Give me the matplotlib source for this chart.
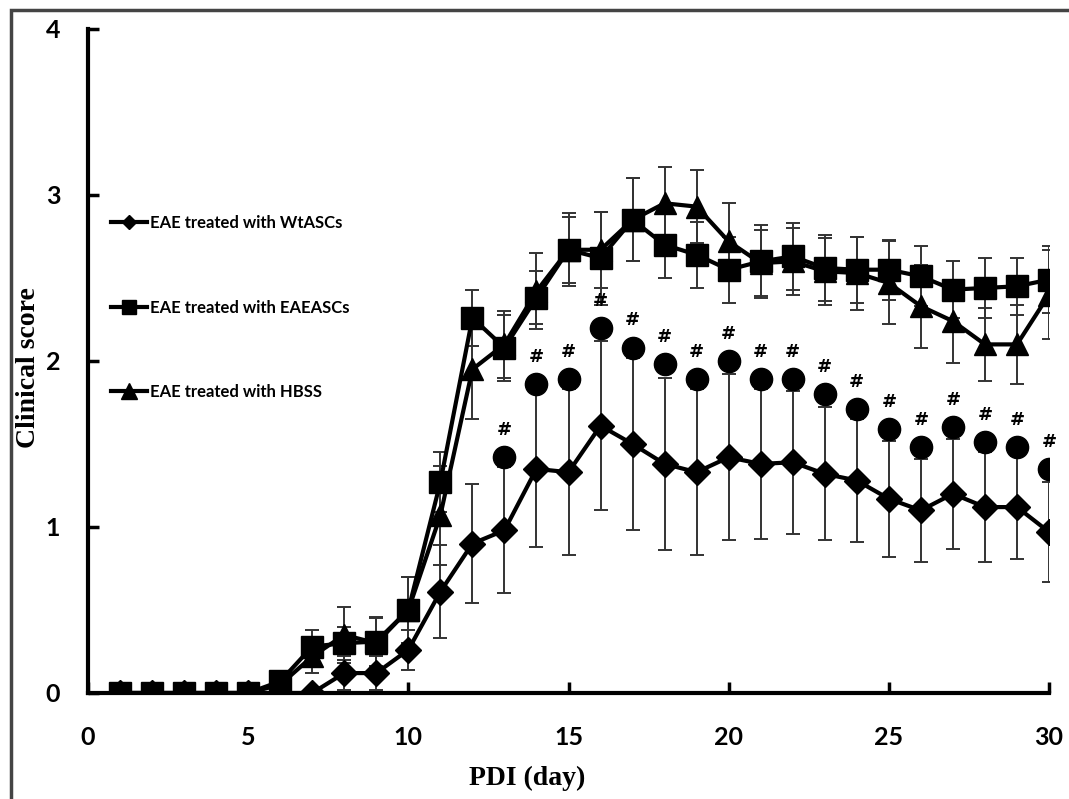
import matplotlib
matplotlib.use("Agg")
import matplotlib.pyplot as plt
from matplotlib.lines import Line2D
from matplotlib.patches import Rectangle
import numpy as np

days = np.arange(1, 31)

wt = [0, 0, 0, 0, 0, 0, 0, 0.12, 0.12, 0.26, 0.61, 0.90, 0.98, 1.35, 1.33, 1.61, 1.50, 1.38, 1.33, 1.42,
      1.38, 1.39, 1.32, 1.28, 1.17, 1.10, 1.20, 1.12, 1.12, 0.97]
wt_sd = [0, 0, 0, 0, 0, 0, 0, 0.10, 0.10, 0.12, 0.28, 0.36, 0.38, 0.47, 0.50, 0.51, 0.52, 0.52, 0.50, 0.50,
         0.45, 0.43, 0.40, 0.37, 0.35, 0.31, 0.33, 0.33, 0.31, 0.30]

eae = [0, 0, 0, 0, 0, 0.07, 0.28, 0.30, 0.31, 0.50, 1.27, 2.26, 2.08, 2.38, 2.67, 2.62, 2.85, 2.70, 2.64, 2.55,
       2.60, 2.63, 2.56, 2.55, 2.55, 2.51, 2.43, 2.44, 2.45, 2.49]
eae_sd = [0, 0, 0, 0, 0, 0.03, 0.10, 0.10, 0.15, 0.20, 0.18, 0.17, 0.20, 0.16, 0.20, 0.28, 0.25, 0.20, 0.20, 0.20,
          0.22, 0.20, 0.20, 0.20, 0.18, 0.18, 0.17, 0.18, 0.17, 0.20]

hbss = [0, 0, 0, 0, 0, 0.05, 0.22, 0.35, 0.30, 0.50, 1.07, 1.95, 2.10, 2.42, 2.67, 2.67, 2.85, 2.95, 2.93, 2.72,
        2.59, 2.60, 2.54, 2.53, 2.47, 2.33, 2.24, 2.10, 2.10, 2.40]
hbss_sd = [0, 0, 0, 0, 0, 0.03, 0.10, 0.17, 0.15, 0.20, 0.30, 0.30, 0.20, 0.23, 0.22, 0.23, 0.25, 0.22, 0.22, 0.23,
           0.20, 0.20, 0.20, 0.22, 0.25, 0.25, 0.25, 0.22, 0.24, 0.27]

# significance markers (circle + #)
sig_days = np.arange(13, 31)
sig_vals = [1.42, 1.86, 1.89, 2.20, 2.08, 1.98, 1.89, 2.00, 1.89, 1.89, 1.80, 1.71, 1.59, 1.48, 1.60, 1.51,
            1.48, 1.35]

labels = ['EAE treated with WtASCs', 'EAE treated with EAEASCs', 'EAE treated with HBSS']
xticks = [0, 5, 10, 15, 20, 25, 30]
yticks = [0, 1, 2, 3, 4]

fig = plt.figure(figsize=(10.69, 7.99), dpi=100)
ax = fig.add_axes([88 / 1069, 1 - 693 / 799, (1049 - 88) / 1069, (693 - 29) / 799])

err_kw = dict(fmt='none', ecolor='#333333', elinewidth=1.4, capsize=5, capthick=1.4, zorder=2)
ax.errorbar(days, wt, yerr=wt_sd, **err_kw)
ax.errorbar(days, eae, yerr=eae_sd, **err_kw)
ax.errorbar(days, hbss, yerr=hbss_sd, **err_kw)

ax.plot(days, hbss, color='black', lw=3, marker='^', markersize=16, zorder=3)
ax.plot(days, eae, color='black', lw=3, marker='s', markersize=16, zorder=4)
ax.plot(days, wt, color='black', lw=3, marker='D', markersize=13, zorder=5)

ax.plot(sig_days, sig_vals, ls='none', marker='o', color='black', markersize=16, zorder=5)
for d, v in zip(sig_days, sig_vals):
    ax.text(d, v + 0.11, '#', ha='center', va='bottom', fontsize=13, fontweight='bold',
            family='DejaVu Sans', zorder=6)

ax.set_xlim(0, 30)
ax.set_ylim(0, 4)
ax.set_xticks(xticks)
ax.set_yticks(yticks)
ax.tick_params(direction='in', length=8, width=2.5, pad=20)
ax.tick_params(axis='x', pad=24)
for lab in ax.get_xticklabels() + ax.get_yticklabels():
    lab.set_family('Lato')
    lab.set_fontweight('bold')
    lab.set_fontsize(18)
for side in ['top', 'right']:
    ax.spines[side].set_visible(False)
for side in ['left', 'bottom']:
    ax.spines[side].set_linewidth(3)

fig.text(527 / 1069, 1 - 778 / 799, 'PDI (day)', ha='center', va='center',
         family='Liberation Serif', fontweight='bold', fontsize=20)
fig.text(29 / 1069, 1 - 368 / 799, 'Clinical score', ha='center', va='center', rotation=90,
         family='Liberation Serif', fontweight='bold', fontsize=20)

handles = [Line2D([], [], color='black', lw=3, marker='D', markersize=7),
           Line2D([], [], color='black', lw=3, marker='s', markersize=10),
           Line2D([], [], color='black', lw=3, marker='^', markersize=11)]
leg = ax.legend(handles, labels, loc='upper left', bbox_to_anchor=(0.008, 0.742), frameon=False,
                handlelength=2.2, handletextpad=0.15, labelspacing=4.1,
                prop={'family': 'Lato', 'weight': 'bold', 'size': 12})

# outer frame of the figure
fig.patches.append(Rectangle((11 / 1069, -0.05), 1.2, 1 - 10 / 799 + 0.05, transform=fig.transFigure,
                             fill=False, edgecolor='#444444', lw=2.5))

fig.savefig('out.png', dpi=100)
